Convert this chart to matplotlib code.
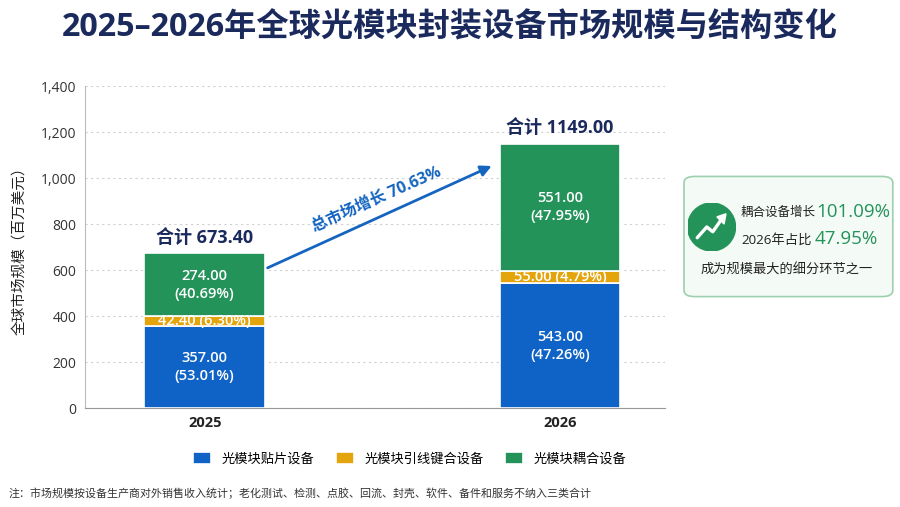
import numpy as np
import matplotlib.pyplot as plt
from matplotlib.patches import FancyBboxPatch, Circle, Polygon

plt.rcParams['font.family'] = ['Open Sans', 'Noto Sans CJK SC', 'DejaVu Sans']

years = ['2025', '2026']
series = ['光模块贴片设备', '光模块引线键合设备', '光模块耦合设备']
placement = [357.00, 543.00]
wire_bond = [42.40, 55.00]
coupling = [274.00, 551.00]
totals = [673.40, 1149.00]
colors = ['#0F62C6', '#E3A40C', '#24935A']
navy = '#1B2A5C'

fig = plt.figure(figsize=(9, 5.07), dpi=100)
ax = fig.add_axes([0.094, 0.195, 0.645, 0.635])

x = np.arange(len(years))
w = 0.34
vals = [placement, wire_bond, coupling]
bottom = np.zeros(len(years))
for v, c, name in zip(vals, colors, series):
    ax.bar(x, v, w, bottom=bottom, color=c, edgecolor='white', linewidth=1.2, label=name, zorder=3)
    for i in range(len(years)):
        pct = v[i] / totals[i] * 100
        mid = bottom[i] + v[i] / 2
        if v[i] < 100:
            txt = f'{v[i]:.2f} ({pct:.2f}%)'
        else:
            txt = f'{v[i]:.2f}\n({pct:.2f}%)'
        ax.text(x[i], mid, txt, ha='center', va='center', color='white',
                fontsize=10.5, fontweight='semibold', linespacing=1.35, zorder=4)
    bottom += np.array(v)

for i in range(len(years)):
    ax.text(x[i], totals[i] + 28, f'合计 {totals[i]:.2f}', ha='center', va='bottom',
            color=navy, fontsize=13, fontweight='bold')

ax.set_xlim(-0.338, 1.296)
ax.set_ylim(0, 1400)
ax.set_yticks(np.arange(0, 1401, 200))
ax.set_yticklabels([f'{t:,}' for t in range(0, 1401, 200)], fontsize=10, color='#333333')
ax.set_xticks(x)
ax.set_xticklabels(years, fontsize=10.5, fontweight='bold', color='#222222')
ax.tick_params(axis='both', length=0, pad=6)
ax.set_ylabel('全球市场规模（百万美元）', fontsize=10.5, color='#222222', labelpad=10)
ax.grid(axis='y', linestyle=(0, (2, 3)), color='#d0d0d0', linewidth=0.8, zorder=0)
for s in ['top', 'right']:
    ax.spines[s].set_visible(False)
ax.spines['left'].set_color('#bbbbbb')
ax.spines['bottom'].set_color('#999999')

# growth arrow
ax.annotate('', xy=(0.815, 1058), xytext=(0.17, 605),
            arrowprops=dict(arrowstyle='-|>', color='#1565C0', lw=2, mutation_scale=16), zorder=5)
ax.text(0.485, 905, '总市场增长 70.63%', rotation=24, ha='center', va='center',
        color='#1565C0', fontsize=11.5, fontweight='bold', rotation_mode='anchor')

fig.text(0.5, 0.945, '2025–2026年全球光模块封装设备市场规模与结构变化', ha='center', va='center',
         fontsize=23.2, fontweight='bold', color=navy)

leg = ax.legend(loc='upper center', bbox_to_anchor=(0.56, -0.1), ncol=3, frameon=False,
                fontsize=9.5, handlelength=1.4, handleheight=1.0, columnspacing=1.6, handletextpad=0.8)

fig.text(0.01, 0.025, '注：市场规模按设备生产商对外销售收入统计；老化测试、检测、点胶、回流、封壳、软件、备件和服务不纳入三类合计',
         fontsize=7.9, color='#333333', ha='left', va='center')

# callout box
box = FancyBboxPatch((0.760, 0.415), 0.232, 0.237, transform=fig.transFigure,
                     boxstyle='round,pad=0,rounding_size=0.012', facecolor='#F4FAF5',
                     edgecolor='#9DD0AE', linewidth=1.2)
fig.patches.append(box)

icon = fig.add_axes([0.764, 0.505, 0.0533, 0.0947])
icon.set_zorder(5)
icon.set_xlim(-1, 1)
icon.set_ylim(-1, 1)
icon.set_aspect('equal')
icon.axis('off')
icon.add_patch(Circle((0, 0), 1, color='#24935A'))
icon.plot([-0.6, -0.2, 0.05, 0.4], [-0.45, 0.0, -0.2, 0.3], color='white', lw=2.4,
          solid_capstyle='round', solid_joinstyle='round')
icon.add_patch(Polygon([[0.6, 0.55], [0.22, 0.42], [0.52, 0.12]], closed=True, color='white'))

fig.text(0.823, 0.580, '耦合设备增长', fontsize=9, color='#222222', va='center')
fig.text(0.907, 0.582, '101.09%', fontsize=13.5, color='#24935A', va='center')
fig.text(0.824, 0.527, '2026年占比', fontsize=9.6, color='#222222', va='center')
fig.text(0.905, 0.529, '47.95%', fontsize=13.5, color='#24935A', va='center')
fig.text(0.874, 0.467, '成为规模最大的细分环节之一', fontsize=9.5, color='#222222', ha='center', va='center')

fig.savefig('out.png', dpi=100)
